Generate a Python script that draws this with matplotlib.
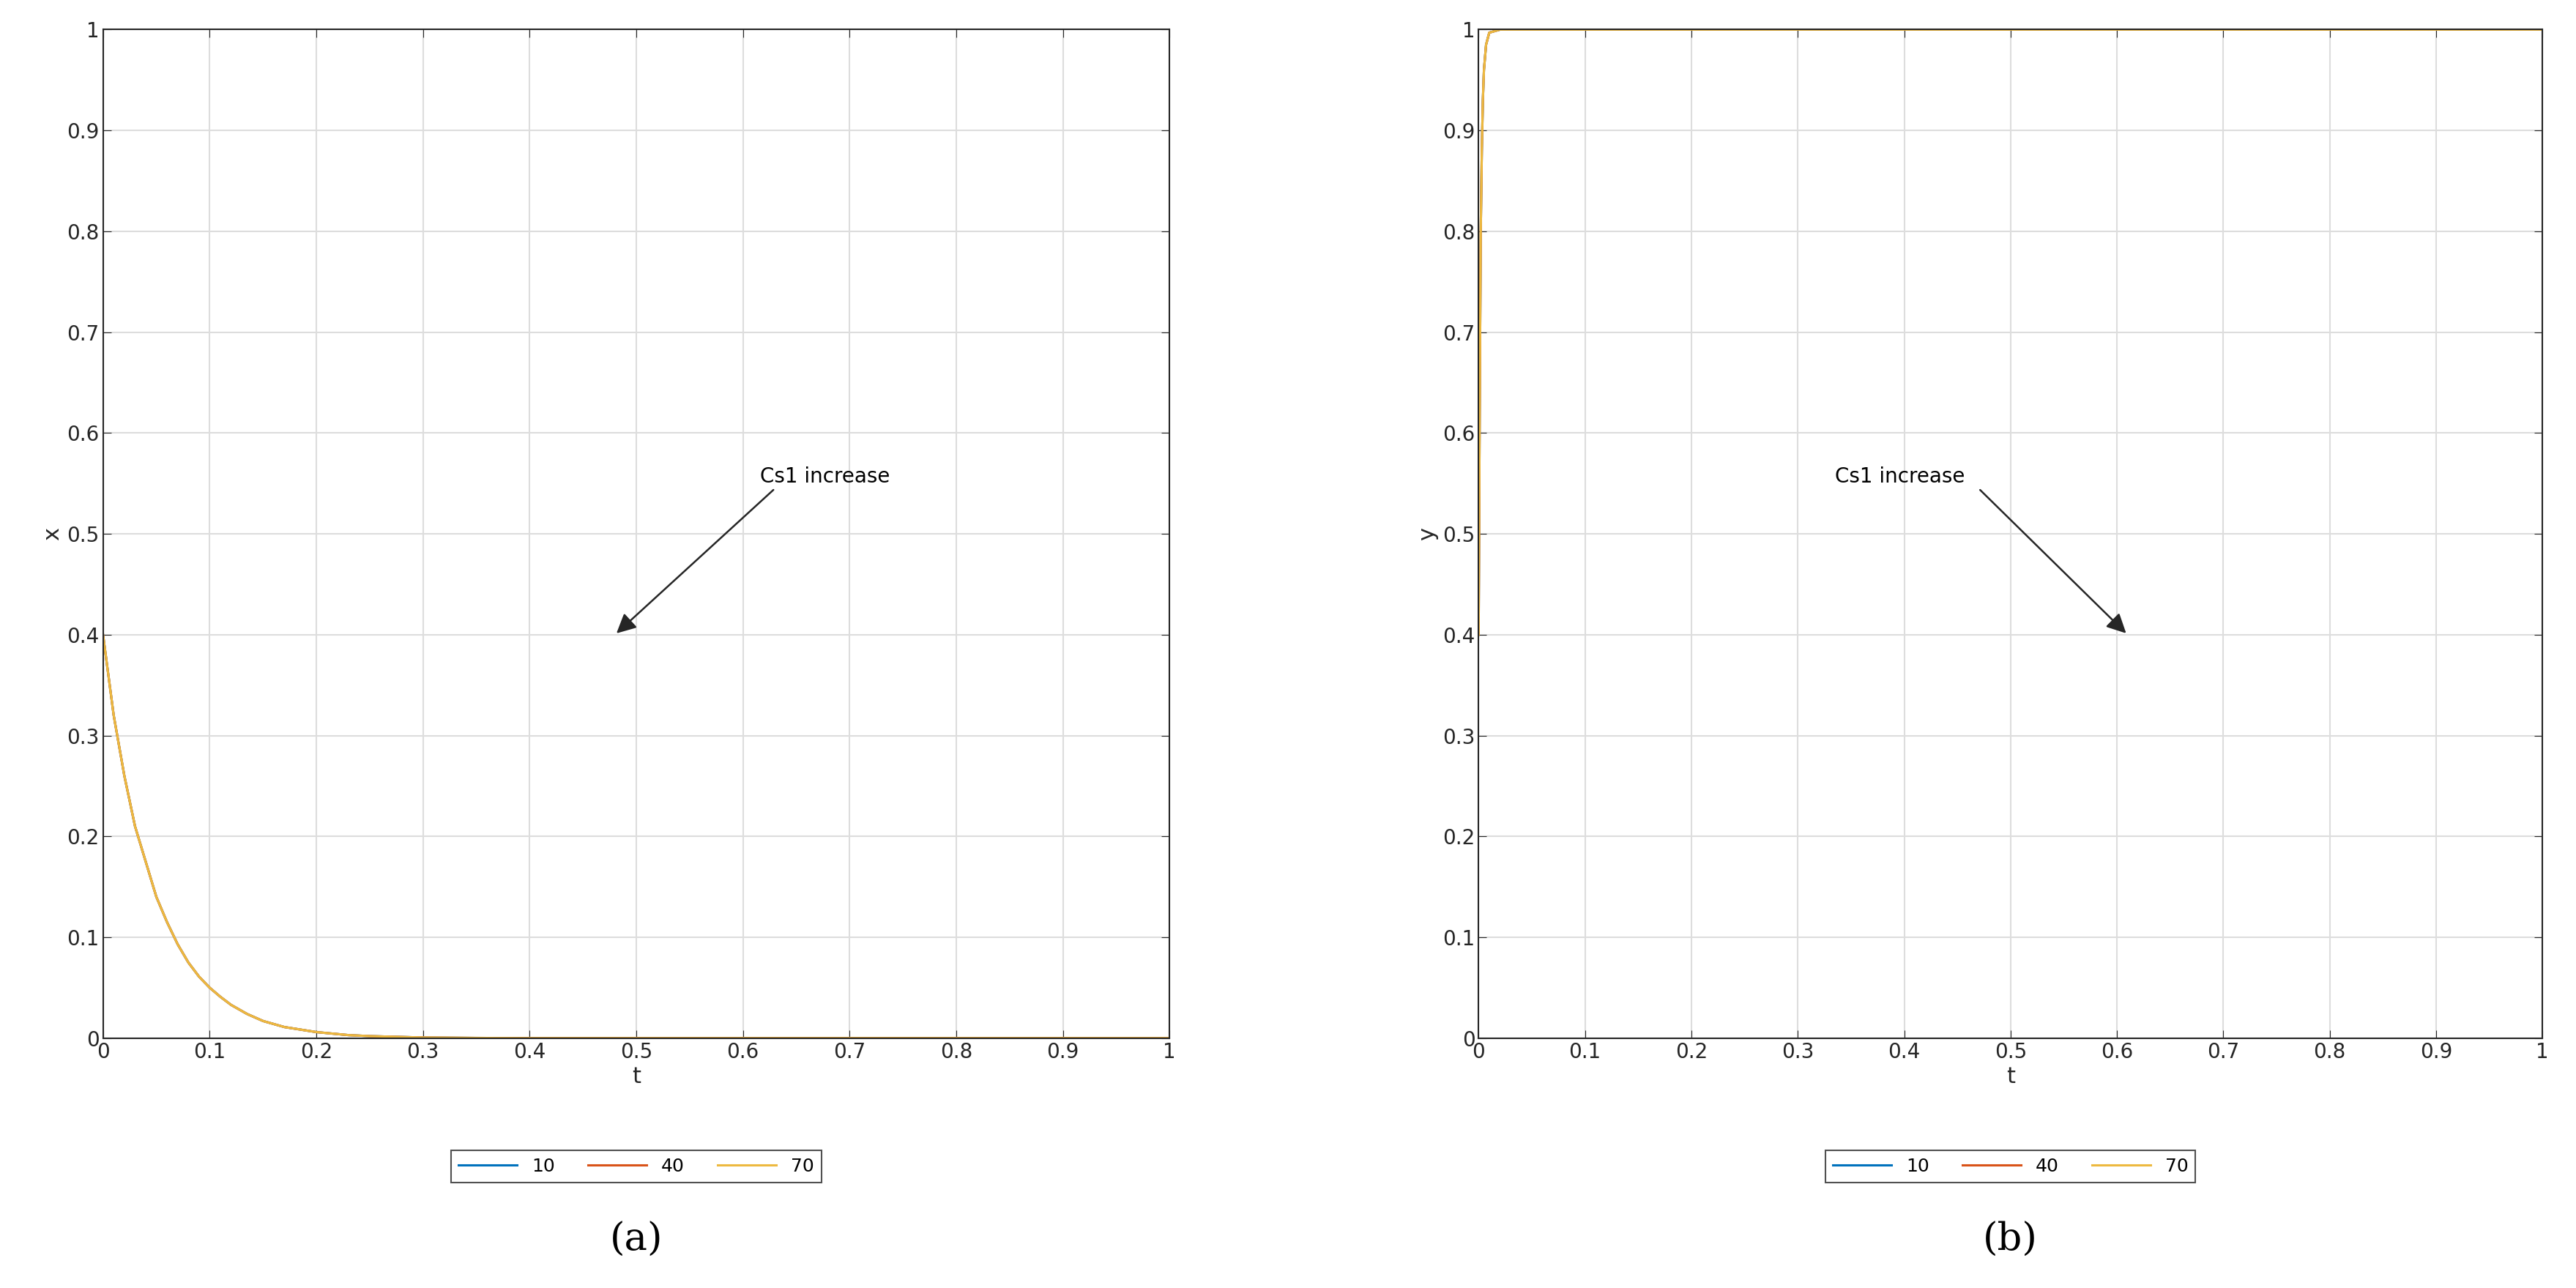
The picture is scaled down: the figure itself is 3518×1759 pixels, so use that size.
import matplotlib
matplotlib.use("Agg")
from matplotlib import pyplot as plt

# values (all three curves overlap)
t_x = [0, 0.005, 0.01, 0.015, 0.02, 0.03, 0.04, 0.05, 0.06, 0.07, 0.08, 0.09, 0.1, 0.11, 0.12, 0.135,
       0.15, 0.17, 0.2, 0.23, 0.25, 0.3, 0.35, 0.4, 0.6, 0.8, 1.0]
x_vals = [0.4, 0.36, 0.32, 0.29, 0.26, 0.21, 0.175, 0.14, 0.115, 0.093, 0.075, 0.061, 0.05, 0.041, 0.033, 0.024,
          0.017, 0.011, 0.006, 0.003, 0.002, 0.0006, 0.0002, 0.0, 0.0, 0.0, 0.0]
t_y = [0, 0.001, 0.002, 0.003, 0.004, 0.005, 0.007, 0.01, 0.02, 0.5, 1.0]
y_vals = [0.4, 0.62, 0.8, 0.88, 0.93, 0.96, 0.985, 0.997, 1.0, 1.0, 1.0]
labels = ["10", "40", "70"]
colors = ["#0072BD", "#D95319", "#EDB940"]

fs = 19
fig = plt.figure(figsize=(35.18, 17.59), dpi=100)
ax1 = fig.add_axes([0.040, 0.194, 0.414, 0.783])
ax2 = fig.add_axes([0.574, 0.194, 0.413, 0.783])

panels = [(ax1, t_x, x_vals, "x", "(a)", (0.616, 0.557), (0.63, 0.545), (0.48, 0.40)),
          (ax2, t_y, y_vals, "y", "(b)", (0.335, 0.557), (0.47, 0.545), (0.61, 0.40))]

for ax, t, v, ylab, tag, txt, a0, a1 in panels:
    for lab, c in zip(labels, colors):
        ax.plot(t, v, color=c, lw=2.2, label=lab)
    ax.set_xlim(0, 1)
    ax.set_ylim(0, 1)
    ax.set_xticks([i / 10 for i in range(11)])
    ax.set_yticks([i / 10 for i in range(11)])
    ax.set_xticklabels(["0"] + ["%.1f" % (i / 10) for i in range(1, 10)] + ["1"])
    ax.set_yticklabels(["0"] + ["%.1f" % (i / 10) for i in range(1, 10)] + ["1"])
    ax.grid(True, color="#dddddd", lw=1.5)
    ax.tick_params(labelsize=fs + 1, direction="in", length=8, top=True, right=True, colors="#262626")
    for s in ax.spines.values():
        s.set_color("#262626")
        s.set_linewidth(1.5)
    ax.set_xlabel("t", fontsize=fs + 3, color="#262626")
    ax.set_ylabel(ylab, fontsize=fs + 3, color="#262626")
    ax.text(txt[0], txt[1], "Cs1 increase", fontsize=fs + 1, ha="left", va="center")
    ax.annotate("", xy=a1, xytext=a0,
                arrowprops=dict(arrowstyle="-|>", color="#262626", lw=1.8, mutation_scale=40))
    leg = ax.legend(loc="center", bbox_to_anchor=(0.5, -0.127), ncol=3, fontsize=fs - 1,
                    fancybox=False, edgecolor="#262626", handlelength=3.2, columnspacing=1.8)
    leg.get_frame().set_linewidth(1.5)
    ax.text(0.5, -0.2, tag, transform=ax.transAxes, fontsize=38, family="DejaVu Serif",
            ha="center", va="center")

fig.savefig("out.png", dpi=100)
